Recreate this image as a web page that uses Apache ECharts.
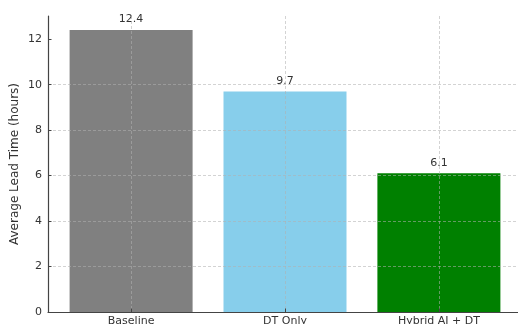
<!DOCTYPE html>
<html>
<head>
<meta charset="utf-8">
<script src="https://cdn.jsdelivr.net/npm/echarts@6/dist/echarts.min.js"></script>
<style>
  html, body { margin: 0; padding: 0; background: #fff; }
  #chart { width: 518px; height: 324px; }
</style>
</head>
<body>
<div id="chart"></div>
<script>
// data
const categories = ['Baseline', 'DT Only', 'Hybrid AI + DT'];
const leadTimes = [12.4, 9.7, 6.1];
const barColors = ['#808080', '#87ceeb', '#008000'];
const yTicks = [0, 2, 4, 6, 8, 10, 12];
const xPositions = [0, 1, 2];

const chart = echarts.init(document.getElementById('chart'));

const gridLine = {
  show: true,
  lineStyle: { color: 'rgba(176,176,176,0.7)', type: [3, 2], width: 0.8 }
};

const option = {
  animation: false,
  textStyle: { fontFamily: 'DejaVu Sans' },
  grid: { left: 48, top: 16, width: 474, height: 296, outerBoundsMode: 'none', containLabel: false },
  xAxis: {
    type: 'value',
    min: -0.54,
    max: 2.54,
    z: 5,
    axisLine: { show: true, onZero: false, lineStyle: { color: '#444', width: 1.2 } },
    axisTick: { show: true, inside: true, length: 3.5, customValues: xPositions, lineStyle: { color: '#444' } },
    axisLabel: {
      customValues: xPositions,
      formatter: v => categories[Math.round(v)],
      fontSize: 11, color: '#333', margin: 4
    },
    splitLine: gridLine
  },
  yAxis: {
    type: 'value',
    min: 0,
    max: 13.02,
    z: 5,
    name: 'Average Lead Time (hours)',
    nameLocation: 'middle',
    nameGap: 27,
    nameMoveOverlap: false,
    nameTextStyle: { fontSize: 12, color: '#333' },
    axisLine: { show: true, onZero: false, lineStyle: { color: '#444', width: 1.2 } },
    axisTick: { show: true, inside: true, length: 3.5, customValues: yTicks, lineStyle: { color: '#444' } },
    axisLabel: { customValues: yTicks, fontSize: 11, color: '#333', margin: 6 },
    splitLine: Object.assign({ showMaxLine: false }, gridLine)
  },
  series: [{
    type: 'bar',
    barWidth: 123,
    data: leadTimes.map((v, i) => ({
      value: [xPositions[i], v],
      itemStyle: { color: barColors[i] }
    })),
    label: {
      show: true,
      position: 'top',
      distance: 5,
      fontSize: 11,
      color: '#333',
      formatter: p => p.value[1].toFixed(1)
    }
  }]
};

chart.setOption(option);
</script>
</body>
</html>
